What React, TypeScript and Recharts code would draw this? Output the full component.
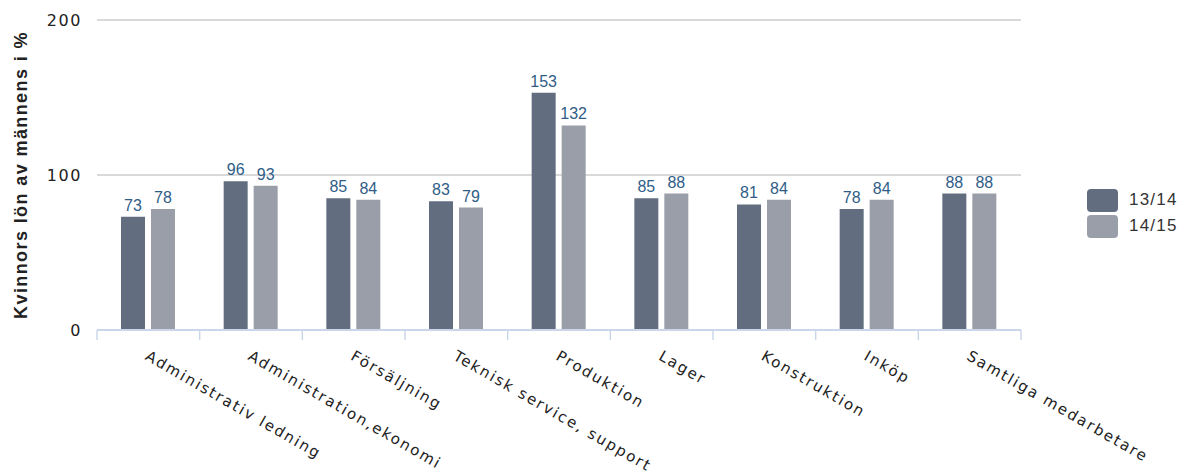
import React from 'react';
import { BarChart, Bar, XAxis, YAxis, CartesianGrid, LabelList, Label } from 'recharts';

const categories = [
  'Administrativ ledning',
  'Administration,ekonomi',
  'Försäljning',
  'Teknisk service, support',
  'Produktion',
  'Lager',
  'Konstruktion',
  'Inköp',
  'Samtliga medarbetare',
];
const values1314 = [73, 96, 85, 83, 153, 85, 81, 78, 88];
const values1415 = [78, 93, 84, 79, 132, 88, 84, 84, 88];
const yTicks = [0, 100, 200];
const seriesNames = ['13/14', '14/15'];
const seriesColors = ['#626e7f', '#9a9ea9'];

const data = categories.map((name, i) => ({
  name,
  s1: values1314[i],
  s2: values1415[i],
}));

const W = 1189;
const H = 472;
const margin = { top: 20, right: 168, bottom: 0, left: 0 };
const Y_W = 97;
const X_H = 142;
const plotW = W - margin.left - margin.right - Y_W;
const axisColor = '#ccd6eb';
const labelFont = "'DejaVu Sans', Verdana, sans-serif";

function XTick(props: any) {
  const { x, y, payload, index } = props;
  const bw = plotW / categories.length;
  const tx = x - 4;
  const ty = y + 29;
  return (
    <g>
      <line x1={x - bw / 2} x2={x - bw / 2} y1={y} y2={y + 10} stroke={axisColor} strokeWidth={1.5} />
      {index === categories.length - 1 && (
        <line x1={x + bw / 2} x2={x + bw / 2} y1={y} y2={y + 10} stroke={axisColor} strokeWidth={1.5} />
      )}
      <text
        x={tx}
        y={ty}
        transform={`rotate(30, ${tx}, ${ty})`}
        textAnchor="start"
        fill="#222"
        fontSize={15}
        letterSpacing={1.9}
        fontFamily={labelFont}
      >
        {payload.value}
      </text>
    </g>
  );
}

function YTitle(props: any) {
  const vb = props.viewBox || { y: margin.top, height: H - margin.top - X_H };
  const cy = vb.y + vb.height / 2;
  return (
    <text
      x={27}
      y={cy}
      transform={`rotate(-90, 27, ${cy})`}
      textAnchor="middle"
      fill="#222"
      fontSize={18}
      fontWeight="bold"
      letterSpacing={1.4}
      fontFamily="'Liberation Sans', Arial, sans-serif"
    >
      Kvinnors lön av männens i %
    </text>
  );
}

export default function App() {
  return (
    <div style={{ position: 'absolute', left: 0, top: 0, width: W, height: H, background: '#fff' }}>
      <BarChart width={W} height={H} data={data} margin={margin} barSize={24} barGap={6}>
        <CartesianGrid vertical={false} stroke="#cccccc" strokeWidth={1.5} />
        <XAxis
          dataKey="name"
          height={X_H}
          interval={0}
          tickLine={false}
          tickSize={0}
          tickMargin={0}
          axisLine={{ stroke: axisColor, strokeWidth: 2 }}
          tick={<XTick />}
        />
        <YAxis
          width={Y_W}
          domain={[0, 200]}
          ticks={yTicks}
          axisLine={false}
          tickLine={false}
          tickSize={0}
          tickMargin={15}
          tick={{ fill: '#222', fontSize: 16, letterSpacing: 1.6, fontFamily: labelFont }}
        >
          <Label content={<YTitle />} />
        </YAxis>
        <Bar dataKey="s1" name={seriesNames[0]} fill={seriesColors[0]} isAnimationActive={false}>
          <LabelList
            dataKey="s1"
            position="top"
            offset={6}
            fill="#2f5d87"
            fontSize={16}
            fontFamily="'Liberation Sans Narrow', 'Arial Narrow', sans-serif"
          />
        </Bar>
        <Bar dataKey="s2" name={seriesNames[1]} fill={seriesColors[1]} isAnimationActive={false}>
          <LabelList
            dataKey="s2"
            position="top"
            offset={6}
            fill="#2f5d87"
            fontSize={16}
            fontFamily="'Liberation Sans Narrow', 'Arial Narrow', sans-serif"
          />
        </Bar>
      </BarChart>
      <div style={{ position: 'absolute', left: 1087, top: 187 }}>
        {seriesNames.map((n, i) => (
          <div key={n} style={{ display: 'flex', alignItems: 'center', height: 26 }}>
            <div
              style={{
                width: 31,
                height: 23,
                borderRadius: 4,
                background: seriesColors[i],
                marginRight: 11,
              }}
            />
            <span
              style={{
                fontFamily: "'Liberation Sans', Arial, sans-serif",
                fontSize: 17,
                letterSpacing: 1.2,
                color: '#333',
              }}
            >
              {n}
            </span>
          </div>
        ))}
      </div>
    </div>
  );
}
